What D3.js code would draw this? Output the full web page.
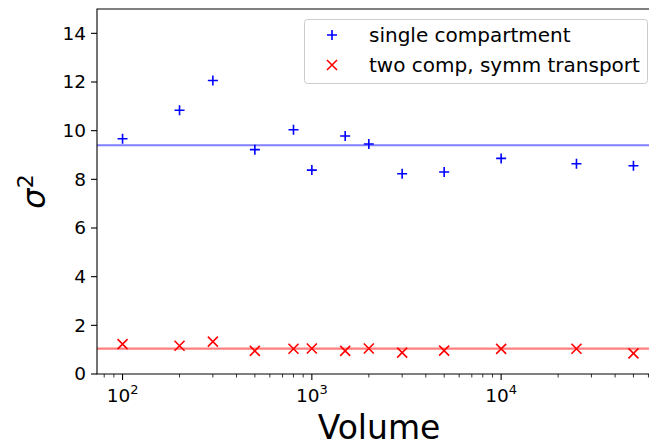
<!DOCTYPE html>
<html>
<head>
<meta charset="utf-8">
<script src="https://cdn.jsdelivr.net/npm/d3@7"></script>
<style>
  body { margin: 0; background: #fff; }
  svg { display: block; }
  text { font-family: "DejaVu Sans", sans-serif; }
</style>
</head>
<body>
<svg id="chart"></svg>
<script>
// volumes used in the runs
const volumes = [100, 200, 300, 500, 800, 1000, 1500, 2000, 3000, 5000, 10000, 25000, 50000];
// sigma^2 for each model
const singleComp = [9.67, 10.84, 12.06, 9.22, 10.04, 8.38, 9.78, 9.45, 8.23, 8.30, 8.86, 8.64, 8.56];
const twoComp = [1.23, 1.16, 1.33, 0.95, 1.04, 1.05, 0.95, 1.05, 0.88, 0.96, 1.03, 1.04, 0.85];
// horizontal reference levels
const meanSingle = 9.40;
const meanTwo = 1.04;
const yTicks = [0, 2, 4, 6, 8, 10, 12, 14];
const legendLabels = ['single compartment', 'two comp, symm transport'];

const width = 649;
const height = 448;
const margin = { top: 9, left: 97, bottom: 74 };
const plotRight = 659; // right spine sits just outside the cropped image

const svg = d3.select('#chart').attr('width', width).attr('height', height);

// matplotlib style 5% margin in log space
const lo = Math.log10(d3.min(volumes));
const hi = Math.log10(d3.max(volumes));
const pad = (hi - lo) * 0.05;
const x = d3.scaleLog()
  .domain([Math.pow(10, lo - pad), Math.pow(10, hi + pad)])
  .range([margin.left, plotRight]);
const y = d3.scaleLinear().domain([0, 15]).range([height - margin.bottom, margin.top]);

const y0 = y(0);
const y1 = y(15);

// reference lines
const refs = [
  { v: meanSingle, c: '#0000ff' },
  { v: meanTwo, c: '#ff0000' }
];
svg.append('g')
  .selectAll('line')
  .data(refs)
  .join('line')
  .attr('x1', margin.left)
  .attr('x2', plotRight)
  .attr('y1', (d) => y(d.v))
  .attr('y2', (d) => y(d.v))
  .attr('stroke', (d) => d.c)
  .attr('stroke-opacity', 0.5)
  .attr('stroke-width', 2.2);

// markers
const ms = 5;
const plus = (g) => g.append('path')
  .attr('d', `M${-ms},0H${ms}M0,${-ms}V${ms}`)
  .attr('stroke', '#0000ff')
  .attr('stroke-width', 1.6)
  .attr('fill', 'none');
const cross = (g) => g.append('path')
  .attr('d', `M${-ms},${-ms}L${ms},${ms}M${-ms},${ms}L${ms},${-ms}`)
  .attr('stroke', '#ff0000')
  .attr('stroke-width', 1.6)
  .attr('fill', 'none');

svg.append('g')
  .selectAll('g')
  .data(volumes.map((v, i) => [v, singleComp[i]]))
  .join('g')
  .attr('transform', (d) => `translate(${x(d[0])},${y(d[1])})`)
  .each(function () { plus(d3.select(this)); });

svg.append('g')
  .selectAll('g')
  .data(volumes.map((v, i) => [v, twoComp[i]]))
  .join('g')
  .attr('transform', (d) => `translate(${x(d[0])},${y(d[1])})`)
  .each(function () { cross(d3.select(this)); });

// spines
svg.append('path')
  .attr('d', `M${margin.left},${y0}V${y1}H${plotRight}V${y0}Z`)
  .attr('fill', 'none')
  .attr('stroke', '#000')
  .attr('stroke-width', 1.1);

// y axis ticks
const yt = svg.append('g')
  .selectAll('g')
  .data(yTicks)
  .join('g')
  .attr('transform', (d) => `translate(${margin.left},${y(d)})`);
yt.append('line').attr('x1', -6).attr('x2', 0).attr('stroke', '#000').attr('stroke-width', 1.1);
yt.append('text')
  .attr('x', -11)
  .attr('dy', '0.35em')
  .attr('text-anchor', 'end')
  .attr('font-size', 18.5)
  .text((d) => d);

// x axis ticks (log, with minors)
const xt = x.ticks().filter((t) => t >= x.domain()[0] && t <= x.domain()[1]);
const isMajor = (t) => Math.abs(Math.log10(t) - Math.round(Math.log10(t))) < 1e-9;
svg.append('g')
  .selectAll('line')
  .data(xt)
  .join('line')
  .attr('x1', (d) => x(d))
  .attr('x2', (d) => x(d))
  .attr('y1', y0)
  .attr('y2', (d) => y0 + (isMajor(d) ? 6 : 3.5))
  .attr('stroke', '#000')
  .attr('stroke-width', (d) => (isMajor(d) ? 1.1 : 0.8));

const xl = svg.append('g')
  .selectAll('text')
  .data(xt.filter(isMajor))
  .join('text')
  .attr('x', (d) => x(d))
  .attr('y', y0 + 28)
  .attr('text-anchor', 'middle')
  .attr('font-size', 18.5);
xl.append('tspan').text('10');
xl.append('tspan').attr('dy', -8).attr('font-size', 13).text((d) => Math.round(Math.log10(d)));

// axis labels
svg.append('text')
  .attr('x', (margin.left + plotRight) / 2 + 1)
  .attr('y', 439)
  .attr('text-anchor', 'middle')
  .attr('font-size', 33)
  .text('Volume');

const yl = svg.append('text')
  .attr('transform', `translate(45,${(y0 + y1) / 2}) rotate(-90)`)
  .attr('text-anchor', 'middle')
  .attr('font-size', 32);
yl.append('tspan').attr('font-style', 'italic').text('σ');
yl.append('tspan').attr('dy', -12).attr('font-size', 22).text('2');

// legend
const lg = svg.append('g');
lg.append('rect')
  .attr('x', 304.5)
  .attr('y', 19.5)
  .attr('width', 343)
  .attr('height', 64)
  .attr('rx', 3)
  .attr('fill', '#fff')
  .attr('fill-opacity', 0.8)
  .attr('stroke', '#cccccc')
  .attr('stroke-width', 1);

const rows = lg.selectAll('g.row')
  .data(legendLabels)
  .join('g')
  .attr('class', 'row')
  .attr('transform', (d, i) => `translate(332,${35 + i * 30})`);
rows.each(function (d, i) {
  const g = d3.select(this);
  if (i === 0) plus(g); else cross(g);
});
rows.append('text')
  .attr('x', 37)
  .attr('dy', '0.35em')
  .attr('font-size', 20)
  .text((d) => d);
</script>
</body>
</html>
